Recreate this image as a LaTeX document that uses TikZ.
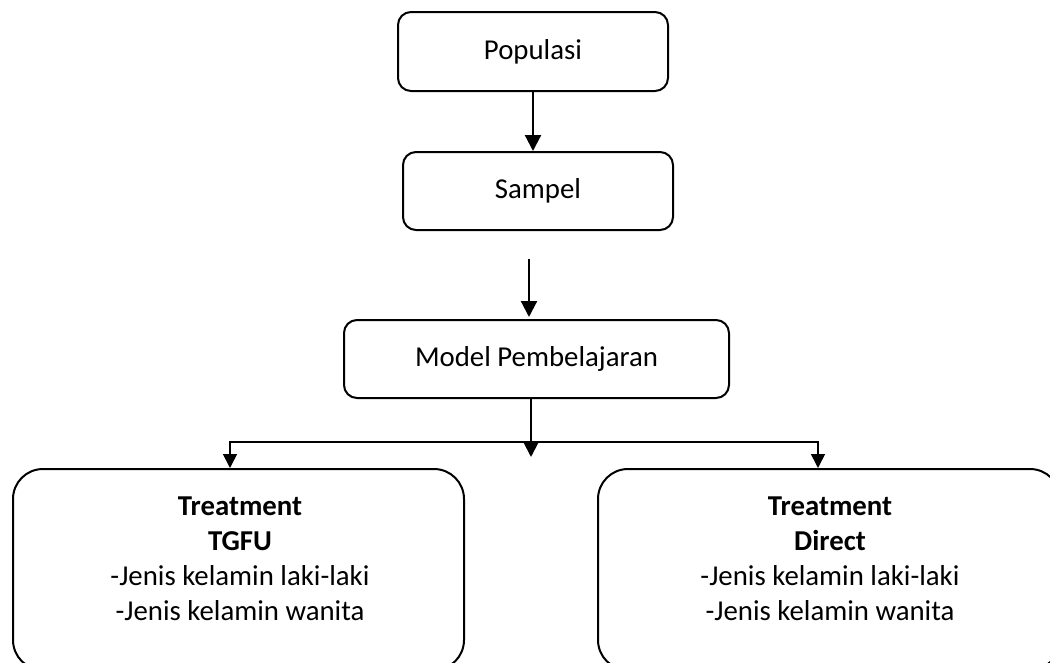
\documentclass[tikz,border=0pt]{standalone}
\usepackage{fontspec}
\setmainfont{Carlito}
\usetikzlibrary{arrows.meta}
\begin{document}
\begin{tikzpicture}[x=1pt,y=-1pt,
  txt/.style={font=\fontsize{28.8}{35}\selectfont, align=center, inner sep=0pt},
  box/.style={txt, draw, line width=2pt, rounded corners=13pt},
  bigbox/.style={draw, line width=2pt, rounded corners=30pt, inner sep=0pt},
  arr/.style={line width=2.2pt, -{Triangle[length=16pt,width=16pt]}},
  brarr/.style={line width=1.6pt, line join=miter, {Triangle[length=14pt,width=14pt]}-{Triangle[length=14pt,width=14pt]}}]
\useasboundingbox (0,0) rectangle (1050,662);
\clip (0,0) rectangle (1050,662);

\node[box, minimum width=270pt, minimum height=79pt] (pop) at (533,51.5) {Populasi};
\node[box, minimum width=270pt, minimum height=78pt] (sam) at (538,191) {Sampel};
\node[box, minimum width=385pt, minimum height=78pt] (model) at (536.5,359) {Model Pembelajaran};
\node[bigbox, minimum width=451pt, minimum height=201pt] (tgfu) at (238.5,569.5) {};
\node[bigbox, minimum width=462pt, minimum height=201pt] (dir) at (829,569.5) {};
\node[txt] (tgfut) at (240,559)
  {\textbf{Treatment}\\\textbf{TGFU}\\-Jenis kelamin laki-laki\\-Jenis kelamin wanita};
\node[txt] (dirt) at (830,559)
  {\textbf{Treatment}\\\textbf{Direct}\\-Jenis kelamin laki-laki\\-Jenis kelamin wanita};

\coordinate (a2s) at (529,259);
\coordinate (a2e) at (529,317);
\coordinate (mid) at (531,457);
\coordinate (lj) at (230,442);
\coordinate (rj) at (818,442);

\draw[arr] (pop.south) -- (sam.north -| pop.south);
\draw[arr] (a2s) -- (a2e);
\draw[arr] (model.south -| mid) -- (mid);
\draw[brarr] (lj |- tgfu.north) -- (lj) -- (rj) -- (rj |- dir.north);
\end{tikzpicture}
\end{document}
